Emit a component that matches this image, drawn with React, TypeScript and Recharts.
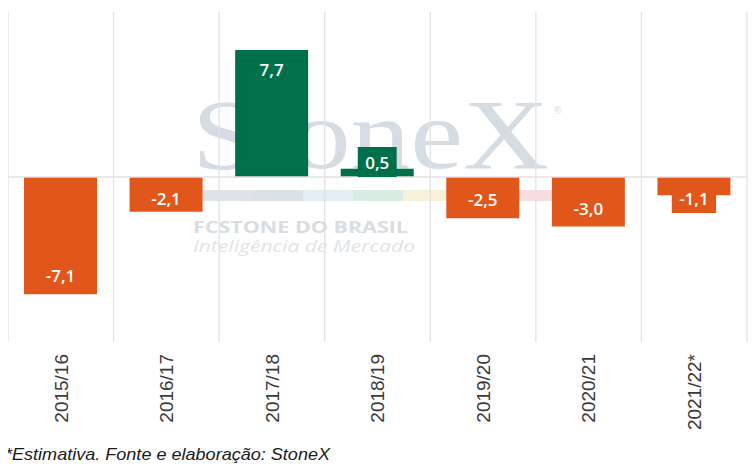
import { BarChart, Bar, XAxis, YAxis, CartesianGrid, ReferenceLine, LabelList, Cell } from "recharts"

// Safras e variação
const categories = ["2015/16", "2016/17", "2017/18", "2018/19", "2019/20", "2020/21", "2021/22*"]
const values = [-7.1, -2.1, 7.7, 0.5, -2.5, -3.0, -1.1]

const data = categories.map((c, i) => ({ safra: c, valor: values[i] }))

const GREEN = "#00704A"
const ORANGE = "#E0561B"
const GRID = "#e2e2e2"

const fmt = (v: number) => v.toFixed(1).replace(".", ",")

const textWidth = (s: string) => {
  let w = 0
  for (const ch of s) {
    if (ch === ",") w += 4.5
    else if (ch === "-") w += 5.4
    else w += 9.7
  }
  return w
}

// label inside the bar end, with a coloured box when the bar is short
const BarLabel = (props: any) => {
  const { x, y, width, height, value } = props
  const top = Math.min(y, y + height)
  const bottom = Math.max(y, y + height)
  const h = bottom - top
  const cx = x + width / 2
  const pos = value >= 0
  const zero = pos ? bottom : top
  const cy = pos ? zero - Math.max(h - 20, 15) : zero + Math.max(h - 18.5, 21)
  const txt = fmt(value)
  const bw = textWidth(txt) + 15
  const fill = pos ? GREEN : ORANGE
  return (
    <g>
      {h < 33 && <rect x={cx - bw / 2} y={cy - 15} width={bw} height={30} fill={fill} />}
      <text
        x={cx}
        y={cy}
        textAnchor="middle"
        dominantBaseline="central"
        fill="#fff"
        fontFamily="'Open Sans', sans-serif"
        fontWeight={600}
        fontSize={17}
      >
        {txt}
      </text>
    </g>
  )
}

const Tick = (props: any) => {
  const { x, y, payload } = props
  return (
    <text
      transform={`translate(${x},${y}) rotate(-90)`}
      textAnchor="end"
      dy="0.36em"
      fill="#3a3a3a"
      fontFamily="'Liberation Sans', Arial, sans-serif"
      fontSize={19}
    >
      {payload.value}
    </text>
  )
}

const stripe = ["#dfe3e8", "#dce1e6", "#e2edf4", "#dcebe2", "#f7f0db", "#f5e4e0", "#f8dde0"]

const Watermark = () => (
  <svg
    width={740}
    height={457}
    style={{ position: "absolute", left: 0, top: 0, overflow: "visible" }}
  >
    <text
      x={184}
      y={160}
      fontFamily="'Liberation Serif', 'DejaVu Serif', serif"
      fontSize={100}
      fill="#d6dce3"
      textLength={357}
      lengthAdjust="spacingAndGlyphs"
    >
      StoneX
    </text>
    <text x={546} y={106} fontFamily="'Liberation Sans', sans-serif" fontSize={10} fill="#d6dce3">
      ®
    </text>
    {stripe.map((c, i) => (
      <rect key={i} x={195 + i * 50} y={182} width={50} height={11} fill={c} />
    ))}
    <text
      x={185}
      y={225}
      fontFamily="'Open Sans', sans-serif"
      fontWeight={700}
      fontSize={16}
      fill="#d8dde2"
      textLength={215}
      lengthAdjust="spacingAndGlyphs"
    >
      FCSTONE DO BRASIL
    </text>
    <text
      x={185}
      y={244}
      fontFamily="'Open Sans', sans-serif"
      fontStyle="italic"
      fontSize={17}
      fill="#e0e4e8"
      textLength={222}
      lengthAdjust="spacingAndGlyphs"
    >
      Inteligência de Mercado
    </text>
    <text
      x={-3}
      y={452}
      fontFamily="'Liberation Sans', Arial, sans-serif"
      fontStyle="italic"
      fontSize={17}
      fill="#1a1a1a"
      textLength={325}
      lengthAdjust="spacingAndGlyphs"
    >
      *Estimativa. Fonte e elaboração: StoneX
    </text>
  </svg>
)

export default function App() {
  const n = categories.length
  return (
    <div style={{ position: "relative", width: 740, height: 457 }}>
      <Watermark />
      <div style={{ position: "absolute", left: 0, top: 0 }}>
        <BarChart
          width={740}
          height={440}
          data={data}
          margin={{ top: 4, right: 1, left: 0, bottom: 0 }}
          barSize={73}
        >
          <CartesianGrid
            horizontal={false}
            stroke={GRID}
            strokeWidth={1.3}
            verticalCoordinatesGenerator={({ offset }: any) =>
              Array.from({ length: n + 1 }, (_, i) => offset.left + (i * offset.width) / n)
            }
          />
          <XAxis
            dataKey="safra"
            axisLine={false}
            tickLine={false}
            tickSize={0}
            tickMargin={12}
            height={106}
            interval={0}
            tick={<Tick />}
          />
          <YAxis hide domain={[-10, 10]} />
          <ReferenceLine y={0} stroke={GRID} strokeWidth={1.3} />
          <Bar dataKey="valor" isAnimationActive={false}>
            {data.map((d, i) => (
              <Cell key={i} fill={d.valor >= 0 ? GREEN : ORANGE} />
            ))}
            <LabelList dataKey="valor" content={<BarLabel />} />
          </Bar>
        </BarChart>
      </div>
    </div>
  )
}
